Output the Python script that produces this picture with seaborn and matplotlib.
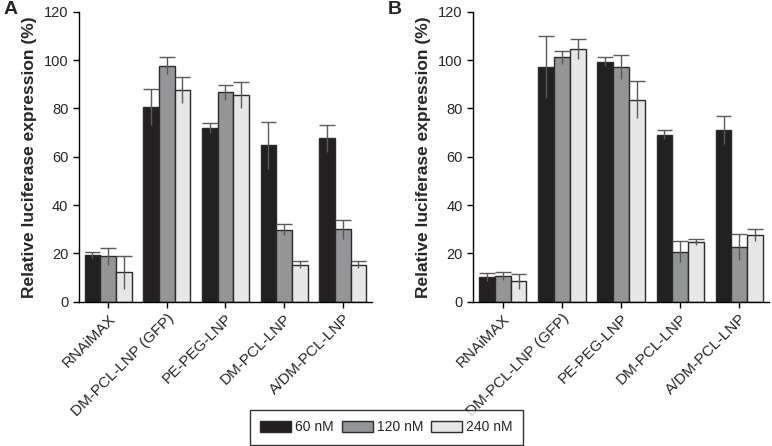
import numpy as np
import pandas as pd
import matplotlib
matplotlib.use("Agg")
import matplotlib.pyplot as plt
import seaborn as sns

sns.set_style("ticks")
plt.rcParams['font.family'] = ['Liberation Sans', 'DejaVu Sans']

categorias = ['RNAiMAX', 'DM-PCL-LNP (GFP)', 'PE-PEG-LNP', 'DM-PCL-LNP', 'A/DM-PCL-LNP']
dosis = ['60 nM', '120 nM', '240 nM']
colores = ['#231f20', '#939598', '#e6e7e8']

# panel A
a_60 = [19.3, 80.6, 71.9, 64.7, 67.6]
a_120 = [18.8, 97.7, 86.8, 29.8, 29.9]
a_240 = [12.1, 87.6, 85.5, 15.4, 15.4]
a_err_60 = [1.4, 7.4, 2.0, 9.8, 5.5]
a_err_120 = [3.4, 3.5, 3.1, 2.2, 3.8]
a_err_240 = [6.9, 5.5, 5.3, 1.6, 1.6]

# panel B
b_60 = [10.1, 97.2, 99.4, 69.1, 70.9]
b_120 = [10.5, 101.1, 97.2, 20.7, 22.6]
b_240 = [8.4, 104.6, 83.6, 24.8, 27.6]
b_err_60 = [1.6, 12.8, 1.7, 1.9, 5.8]
b_err_120 = [1.6, 2.8, 5.1, 4.3, 5.5]
b_err_240 = [3.2, 4.0, 7.6, 1.3, 2.3]


def armar_df(v60, v120, v240):
    filas = []
    for d, vals in zip(dosis, [v60, v120, v240]):
        for c, v in zip(categorias, vals):
            filas.append({'grupo': c, 'dosis': d, 'valor': v})
    return pd.DataFrame(filas)


def dibujar(ax, df, errores):
    sns.barplot(data=df, x='grupo', y='valor', hue='dosis', hue_order=dosis,
                palette=colores, order=categorias, width=0.8, ax=ax,
                edgecolor='#2a2a2a', linewidth=1.0, legend=False, errorbar=None)
    # error bars: full line, cap only on top
    for cont, err in zip(ax.containers, errores):
        for barra, e in zip(cont.patches, err):
            xc = barra.get_x() + barra.get_width() / 2
            h = barra.get_height()
            ax.vlines(xc, h - e, h + e, color='#5a5a5a', lw=1.0, zorder=1.5)
            ax.hlines(h + e, barra.get_x(), barra.get_x() + barra.get_width(),
                      color='#5a5a5a', lw=1.0, zorder=3)
    ax.set_ylim(0, 120)
    ax.set_xlim(-0.5, 4.5)
    ax.set_yticks(range(0, 121, 20))
    ax.set_xlabel('')
    ax.set_ylabel('Relative luciferase expression (%)', fontsize=12.5,
                  fontweight='bold', labelpad=5)
    ax.tick_params(axis='both', labelsize=10.5, length=4, width=1, color='black')
    ax.tick_params(axis='x', pad=3, labelsize=11)
    plt.setp(ax.get_xticklabels(), rotation=45, ha='right', rotation_mode='anchor')
    for s in ['top', 'right']:
        ax.spines[s].set_visible(False)
    for s in ['left', 'bottom']:
        ax.spines[s].set_color('black')
        ax.spines[s].set_linewidth(1.0)


fig = plt.figure(figsize=(7.72, 4.46), dpi=100)
ax1 = fig.add_axes([0.102, 0.3235, 0.380, 0.650])
ax2 = fig.add_axes([0.613, 0.3235, 0.383, 0.650])

dibujar(ax1, armar_df(a_60, a_120, a_240), [a_err_60, a_err_120, a_err_240])
dibujar(ax2, armar_df(b_60, b_120, b_240), [b_err_60, b_err_120, b_err_240])

fig.text(0.004, 0.998, 'A', fontsize=14, fontweight='bold', ha='left', va='top')
fig.text(0.502, 0.998, 'B', fontsize=14, fontweight='bold', ha='left', va='top')

handles = [plt.Rectangle((0, 0), 1, 1, facecolor=c, edgecolor='#2a2a2a', lw=1.0) for c in colores]
leg = fig.legend(handles, dosis, loc='center', bbox_to_anchor=(0.5006, 0.0415), ncol=3,
                 frameon=True, fancybox=False, edgecolor='black', fontsize=10,
                 handlelength=2.2, handleheight=0.85, columnspacing=0.6, handletextpad=0.3,
                 borderpad=0.75, borderaxespad=0)
leg.get_frame().set_linewidth(1.0)

fig.savefig('out.png', dpi=100)
